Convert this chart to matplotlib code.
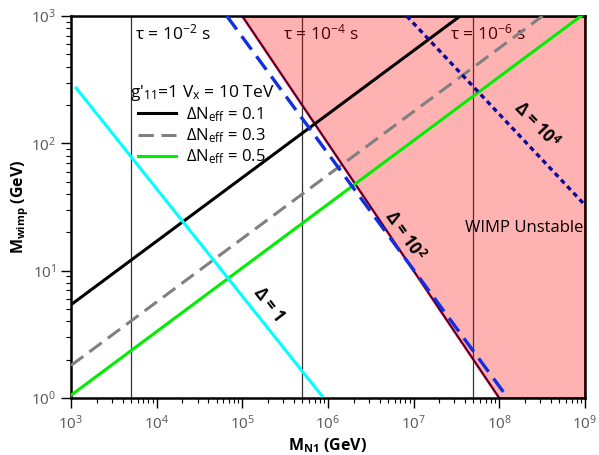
import numpy as np
import matplotlib
matplotlib.use('Agg')
import matplotlib.pyplot as plt

plt.rcParams['font.family'] = ['Open Sans', 'DejaVu Sans']
plt.rcParams['mathtext.fontset'] = 'custom'
plt.rcParams['mathtext.rm'] = 'Open Sans'
plt.rcParams['mathtext.it'] = 'Open Sans:italic'
plt.rcParams['mathtext.bf'] = 'Open Sans:bold'

# Delta N_eff lines (M_N1, M_wimp) endpoints
neff_labels = ['0.1', '0.3', '0.5']
neff_x = [[1e3, 3.5e7], [1e3, 3.2e8], [1e3, 9.0e8]]
neff_y = [[5.4, 1e3], [1.8, 1e3], [1.05, 1e3]]

# Delta contours
delta1_x = [1.15e3, 8.5e5]
delta1_y = [272, 1.04]
delta2_x = [6.6e4, 1.26e8]
delta2_y = [1e3, 1.0]
delta4_x = [8.3e6, 1e9]
delta4_y = [1e3, 32.8]

# unstable region boundary
unstable_x = [1e5, 1e9, 1e9, 1e8]
unstable_y = [1e3, 1e3, 1.0, 1.0]

# lifetime lines and their labels
tau_x = [5e3, 5e5, 5e7]
tau_labels = ['-2', '-4', '-6']
tau_text_x = [5.6e3, 3.0e5, 2.65e7]

xticks = [1e3, 1e4, 1e5, 1e6, 1e7, 1e8, 1e9]
yticks = [1e0, 1e1, 1e2, 1e3]

fig = plt.figure(figsize=(5.99, 4.55), dpi=100)
ax = fig.add_axes([0.1185, 0.1253, 0.858, 0.8395])
ax.set_xscale('log')
ax.set_yscale('log')
ax.set_xticks(xticks)
ax.set_yticks(yticks)
ax.set_xlim(1e3, 1e9)
ax.set_ylim(1, 1e3)

for xv, tx, lab in zip(tau_x, tau_text_x, tau_labels):
    ax.axvline(xv, color='#333333', lw=0.9, zorder=1)
    ax.text(tx, 650, 'τ = 10$^{%s}$ s' % lab, fontsize=12.5, va='baseline', zorder=1)

ax.fill(unstable_x, unstable_y, facecolor=(1, 0, 0, 0.3), edgecolor='red', lw=1.8, zorder=2)
ax.plot([unstable_x[0], unstable_x[3]], [unstable_y[0], unstable_y[3]], color='#000060', lw=0.9, zorder=3)

styles = [dict(color='black', ls='-'), dict(color='gray', ls=(0, (5, 2.5))), dict(color='#00ee00', ls='-')]
for xs, ys, lab, st in zip(neff_x, neff_y, neff_labels, styles):
    ax.plot(xs, ys, lw=2.2, label=r'$\Delta$N$_{\rm eff}$ = ' + lab, zorder=4, **st)

ax.plot(delta1_x, delta1_y, color='cyan', lw=2.2, zorder=4)
ax.plot(delta2_x, delta2_y, color='#1030e0', lw=2.4, ls=(0, (5, 2.5)), zorder=4)
ax.plot(delta4_x, delta4_y, color='#0a0a9a', lw=2.4, ls=(0, (1.5, 1.2)), zorder=4)

ax.text(2.0e5, 5.5, r'$\mathbf{\Delta}$ = 1', fontsize=12, fontweight='bold', rotation=-52, ha='center', va='center')
ax.text(7.8e6, 18.7, r'$\mathbf{\Delta}$ = 10$^{\mathbf{2}}$', fontsize=12, fontweight='bold', rotation=-55, ha='center', va='center')
ax.text(2.7e8, 140, r'$\mathbf{\Delta}$ = 10$^{\mathbf{4}}$', fontsize=12, fontweight='bold', rotation=-46, ha='center', va='center')
ax.text(9.6e8, 21.6, 'WIMP Unstable', fontsize=12, ha='right', va='center', zorder=5)

leg = ax.legend(loc='upper left', bbox_to_anchor=(0.095, 0.852), frameon=False, fontsize=12,
                title="g'$_{11}$=1 V$_{\\rm x}$ = 10 TeV", title_fontsize=12.5,
                handlelength=2.3, labelspacing=0.15, borderpad=0.1, handletextpad=0.6)
leg._legend_box.sep = 2

ax.set_xlabel(r'M$_{\mathbf{N1}}$ (GeV)', fontsize=11.5, fontweight='bold', labelpad=2)
ax.set_ylabel(r'M$_{\mathbf{wimp}}$ (GeV)', fontsize=11.5, fontweight='bold', labelpad=0)
ax.tick_params(which='both', direction='out', labelsize=11, labelcolor='#555555')
ax.tick_params(which='major', length=7, width=1)
ax.tick_params(which='minor', length=3.6, width=0.8)
ax.tick_params(axis='x', which='major', pad=5)
ax.tick_params(axis='y', which='major', pad=3.5)
for sp in ax.spines.values():
    sp.set_linewidth(1.8)

fig.savefig('out.png', dpi=100)
